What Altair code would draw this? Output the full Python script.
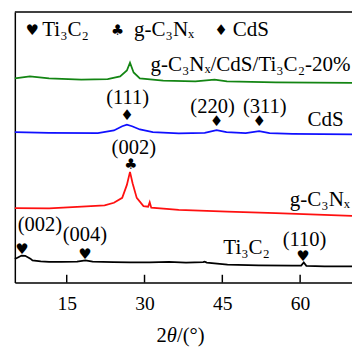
import altair as alt
import pandas as pd

# ---- data (x = 2θ in degrees, y = offset intensity, a.u.) ----
ti_x = [5, 5.5, 6.3, 7, 8, 8.4, 10, 11.6, 14, 17, 18.6, 20, 24, 27.2, 31, 34.7, 38, 41.3, 41.6, 42, 46, 52, 58.5, 60.2, 60.7, 61.2, 64.7, 70]
ti_y = [24.3, 25.5, 27.7, 27.4, 24.5, 22.7, 21.8, 21.3, 21.2, 21.4, 22.7, 21.4, 21.0, 20.7, 20.6, 21.2, 20.5, 21.0, 21.4, 20.4, 18.3, 17.7, 17.3, 17.4, 20.7, 17.2, 16.7, 16.7]

gcn_x = [5, 11.6, 17.9, 22.3, 24.1, 25.7, 26.6, 27.2, 27.7, 28.5, 29.8, 30.7, 31.0, 31.3, 36.6, 46, 55.3, 70]
gcn_y = [76.3, 76, 77.7, 79, 81.7, 86.7, 100, 113.3, 101.7, 86.7, 78.3, 77.7, 82.3, 76.7, 74.3, 72.7, 71, 68.3]

cds_x = [5, 11.6, 21, 24.1, 25.7, 26.6, 27.6, 29.1, 31.6, 36.6, 41.6, 43.9, 45.8, 49.5, 52.1, 54.1, 58.5, 70]
cds_y = [154, 153.3, 153, 155.7, 160, 161.7, 160, 156.7, 154, 152.7, 153.3, 156, 154, 153, 155, 153, 152.3, 151.7]

comp_x = [5, 7.9, 11.6, 17.8, 22.9, 25.3, 26.6, 27.2, 27.9, 29.1, 33.6, 39.8, 43.5, 45.9, 55.3, 70]
comp_y = [209, 211, 209, 207.7, 208.3, 211, 217, 225, 215, 209, 206.7, 206, 207.7, 206, 205, 204.3]

series_names = ["Ti₃C₂", "g-C₃Nₓ", "CdS", "g-C₃Nₓ/CdS/Ti₃C₂-20%"]
series_colors = ["#000000", "#ff1010", "#1010ff", "#138513"]

# peak markers
mark_x = [6.37, 18.56, 60.56, 27.37, 26.62, 43.87, 52.12]
mark_y = [34.5, 29, 27.5, 121, 171, 165.5, 165.5]
mark_glyph = ["♥", "♥", "♥", "♣", "♦", "♦", "♦"]

# peak (hkl) labels
hkl_x = [9.84, 18.5, 60.84, 27.93, 26.75, 43.12, 53.19]
hkl_y = [58.5, 49, 43.5, 138, 188.5, 180, 180]
hkl_text = ["(002)", "(004)", "(110)", "(002)", "(111)", "(220)", "(311)"]

# series name labels
lab_x = [49.69, 69.6, 68.4, 69.7]
lab_y = [35, 84, 166, 223]
lab_align = ["center", "right", "right", "right"]

tick_values = [15, 30, 45, 60]

legend_glyphs = ["♥", "♣", "♦"]
legend_texts = ["Ti₃C₂", "g-C₃Nₓ", "CdS"]

# ---- build tables ----
rows = []
for name, xs, ys in zip(series_names, [ti_x, gcn_x, cds_x, comp_x], [ti_y, gcn_y, cds_y, comp_y]):
    for i, (a, b) in enumerate(zip(xs, ys)):
        rows.append({"series": name, "x": a, "y": b, "i": i})
lines_df = pd.DataFrame(rows)

W, H = 345, 277
FONT = "Liberation Serif"
xscale = alt.Scale(domain=[5, 70], nice=False, zero=False)
yscale = alt.Scale(domain=[0, 277], nice=False, zero=False)

lines = alt.Chart(lines_df).mark_line(strokeWidth=1.8).encode(
    x=alt.X("x:Q", scale=xscale, axis=alt.Axis(values=tick_values, title=None)),
    y=alt.Y("y:Q", scale=yscale, axis=alt.Axis(title=None, labels=False, ticks=False, grid=False)),
    color=alt.Color("series:N", scale=alt.Scale(domain=series_names, range=series_colors), legend=None),
    order="i:Q",
)

marks_df = pd.DataFrame({"x": mark_x, "y": mark_y, "g": mark_glyph})
markers = alt.Chart(marks_df).mark_text(font="DejaVu Sans", fontSize=15, baseline="middle", color="black").encode(
    x=alt.X("x:Q", scale=xscale), y=alt.Y("y:Q", scale=yscale), text="g:N"
)

hkl_df = pd.DataFrame({"x": hkl_x, "y": hkl_y, "t": hkl_text})
hkl = alt.Chart(hkl_df).mark_text(font=FONT, fontSize=21, baseline="middle", color="black").encode(
    x=alt.X("x:Q", scale=xscale), y=alt.Y("y:Q", scale=yscale), text="t:N"
)

lab_layers = []
for name, a, b, al in zip(series_names, lab_x, lab_y, lab_align):
    d = pd.DataFrame({"x": [a], "y": [b], "t": [name]})
    lab_layers.append(
        alt.Chart(d).mark_text(font=FONT, fontSize=21.5, baseline="middle", align=al, color="black").encode(
            x=alt.X("x:Q", scale=xscale), y=alt.Y("y:Q", scale=yscale), text="t:N"
        )
    )

ticks_df = pd.DataFrame({"x": tick_values})
ticks = alt.Chart(ticks_df).mark_rule(color="black", strokeWidth=1.5).encode(
    x=alt.X("x:Q", scale=xscale), y=alt.value(H), y2=alt.value(H - 8)
)

one = pd.DataFrame({"a": [0]})
top_border = alt.Chart(one).mark_rule(color="black", strokeWidth=1.5).encode(
    x=alt.value(0), x2=alt.value(W + 5), y=alt.value(0)
)

legend_layers = []
glyph_pos = [18, 105, 211]
text_pos = [28, 122, 223]
for g, t, gp, tp in zip(legend_glyphs, legend_texts, glyph_pos, text_pos):
    legend_layers.append(
        alt.Chart(one).mark_text(font="DejaVu Sans", fontSize=15, baseline="middle", color="black").encode(
            x=alt.value(gp), y=alt.value(19), text=alt.value(g))
    )
    legend_layers.append(
        alt.Chart(one).mark_text(font=FONT, fontSize=21.5, baseline="middle", align="left", color="black").encode(
            x=alt.value(tp), y=alt.value(19), text=alt.value(t))
    )

title_parts = [("2", "normal", 145), ("θ", "italic", 155.5), ("/(°)", "normal", 166)]
title_layers = [
    alt.Chart(one).mark_text(font=FONT, fontSize=21, fontStyle=st, baseline="middle", align="left", color="black").encode(
        x=alt.value(px), y=alt.value(332), text=alt.value(s))
    for s, st, px in title_parts
]

chart = alt.layer(
    lines, markers, hkl, *lab_layers, ticks, top_border, *legend_layers, *title_layers
).properties(
    width=W, height=H,
    autosize=alt.AutoSizeParams(type="none"),
    padding={"left": 7, "top": 0, "right": 0, "bottom": 66},
).configure_view(stroke=None).configure_axis(
    domainColor="black", domainWidth=1.5, grid=False, labelFont=FONT, labelFontSize=20,
    labelColor="black", ticks=False, labelPadding=12,
)

chart.save("out.html", embed_options={"renderer": "svg", "actions": False})
